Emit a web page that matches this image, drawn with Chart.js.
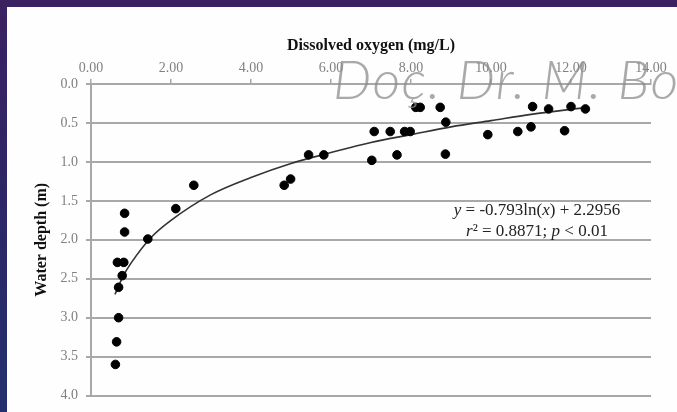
<!DOCTYPE html>
<html>
<head>
<meta charset="utf-8">
<script src="https://cdn.jsdelivr.net/npm/chart.js@4/dist/chart.umd.min.js"></script>
<style>
  html, body { margin: 0; padding: 0; }
  body {
    width: 677px; height: 412px; overflow: hidden;
    background: linear-gradient(180deg, #3b2160 0%, #2b2866 60%, #24306e 100%);
    position: relative;
  }
  .panel {
    position: absolute; left: 7px; top: 7px; width: 670px; height: 405px;
    background: #fefefe;
  }
</style>
</head>
<body>
<div class="panel"><canvas id="chart" width="670" height="405"></canvas></div>
<script>
// dissolved oxygen (mg/L) and water depth (m) of the samples
const oxygen = [
  0.84, 0.84, 1.42, 2.12, 2.57, 4.83, 4.99, 5.44, 5.82,
  0.66, 0.82, 0.78, 0.69, 0.69, 0.64, 0.61,
  8.12, 8.23, 8.73, 8.87, 7.08, 7.48, 7.84, 7.98, 7.02, 7.65, 8.86,
  9.92, 10.67, 11.0, 11.04, 11.44, 11.84, 12.0, 12.36,
];
const depth = [
  1.66, 1.90, 1.99, 1.60, 1.30, 1.30, 1.22, 0.91, 0.91,
  2.29, 2.29, 2.46, 2.61, 3.00, 3.31, 3.60,
  0.30, 0.30, 0.30, 0.49, 0.61, 0.61, 0.61, 0.61, 0.98, 0.91, 0.90,
  0.65, 0.61, 0.55, 0.29, 0.32, 0.60, 0.29, 0.32,
];

// fitted curve
const fitX = [0.6, 0.8, 1.0, 1.5, 2, 3, 4, 5, 6, 7, 8, 9, 10, 11, 12.4];
const fitY = [2.70, 2.47, 2.30, 1.97, 1.75, 1.42, 1.20, 1.02, 0.88, 0.75, 0.65, 0.55, 0.47, 0.39, 0.30];

const xTicks = [0, 2, 4, 6, 8, 10, 12, 14];
const yTicks = [0, 0.5, 1, 1.5, 2, 2.5, 3, 3.5, 4];

const xTitle = 'Dissolved oxygen (mg/L)';
const yTitle = 'Water depth (m)';
const watermark = 'Doç. Dr. M. Bo';

const pairs = (xs, ys) => xs.map((x, i) => ({ x, y: ys[i] }));

// draws a line of text made of normal / italic pieces, centred on cx
const drawPieces = (ctx, pieces, cx, y) => {
  const font = (p) => (p.it ? 'italic ' : '') + '17px "Liberation Serif"';
  const total = pieces.reduce((w, p) => {
    ctx.font = font(p);
    return w + ctx.measureText(p.t).width;
  }, 0);
  let x = cx - total / 2;
  pieces.forEach((p) => {
    ctx.font = font(p);
    ctx.fillText(p.t, x, y);
    x += ctx.measureText(p.t).width;
  });
};

const extras = {
  id: 'extras',
  afterDraw(chart) {
    const { ctx, scales } = chart;
    ctx.save();
    ctx.fillStyle = '#222';
    ctx.textBaseline = 'middle';
    const cx = scales.x.getPixelForValue(11.15);
    drawPieces(ctx, [
      { t: 'y', it: true }, { t: ' = -0.793ln(' }, { t: 'x', it: true }, { t: ') + 2.2956' },
    ], cx, scales.y.getPixelForValue(1.62));
    drawPieces(ctx, [
      { t: 'r', it: true }, { t: '² = 0.8871; ' }, { t: 'p', it: true }, { t: ' < 0.01' },
    ], cx, scales.y.getPixelForValue(1.9));

    ctx.font = 'italic 300 54px Lato';
    ctx.letterSpacing = '1.5px';
    ctx.fillStyle = 'rgba(140, 140, 140, 0.75)';
    ctx.textBaseline = 'alphabetic';
    ctx.fillText(watermark, 326, 92);
    ctx.restore();
  },
};

const tickFont = { family: '"Liberation Serif", serif', size: 14 };
const titleFont = { family: '"Liberation Serif", serif', size: 16, weight: 'bold' };

// eslint-disable-next-line no-new, no-undef
new Chart(document.getElementById('chart'), {
  type: 'scatter',
  data: {
    datasets: [
      {
        label: 'samples',
        data: pairs(oxygen, depth),
        backgroundColor: '#000',
        borderColor: '#000',
        pointRadius: 4.3,
      },
      {
        type: 'line',
        label: 'fit',
        data: pairs(fitX, fitY),
        borderColor: '#333',
        borderWidth: 1.6,
        pointRadius: 0,
        cubicInterpolationMode: 'monotone',
        fill: false,
      },
    ],
  },
  options: {
    responsive: false,
    animation: false,
    layout: { padding: { left: 10, right: 26, top: 22, bottom: 16 } },
    plugins: { legend: { display: false }, tooltip: { enabled: false } },
    scales: {
      x: {
        type: 'linear',
        position: 'top',
        min: 0,
        max: 14,
        afterBuildTicks: (axis) => { axis.ticks = xTicks.map((v) => ({ value: v })); },
        afterFit: (axis) => { axis.height = 55; },
        ticks: {
          color: '#808080',
          font: tickFont,
          padding: 2,
          maxRotation: 0,
          callback: (v) => Number(v).toFixed(2),
        },
        grid: { drawOnChartArea: false, tickLength: 5, color: '#a8a8a8', lineWidth: 1.5 },
        border: { color: '#a8a8a8', width: 2 },
        title: { display: true, text: xTitle, color: '#111', font: titleFont, padding: { top: 7, bottom: 0 } },
      },
      y: {
        type: 'linear',
        reverse: true,
        min: 0,
        max: 4,
        afterBuildTicks: (axis) => { axis.ticks = yTicks.map((v) => ({ value: v })); },
        afterFit: (axis) => { axis.width = 74; },
        ticks: {
          color: '#808080',
          font: tickFont,
          padding: 8,
          callback: (v) => Number(v).toFixed(1),
        },
        grid: { color: '#a8a8a8', lineWidth: 2, tickLength: 5, drawTicks: true },
        border: { color: '#a8a8a8', width: 2 },
        title: { display: true, text: yTitle, color: '#111', font: titleFont, padding: { top: 15, bottom: 0 } },
      },
    },
  },
  plugins: [extras],
});
</script>
</body>
</html>
